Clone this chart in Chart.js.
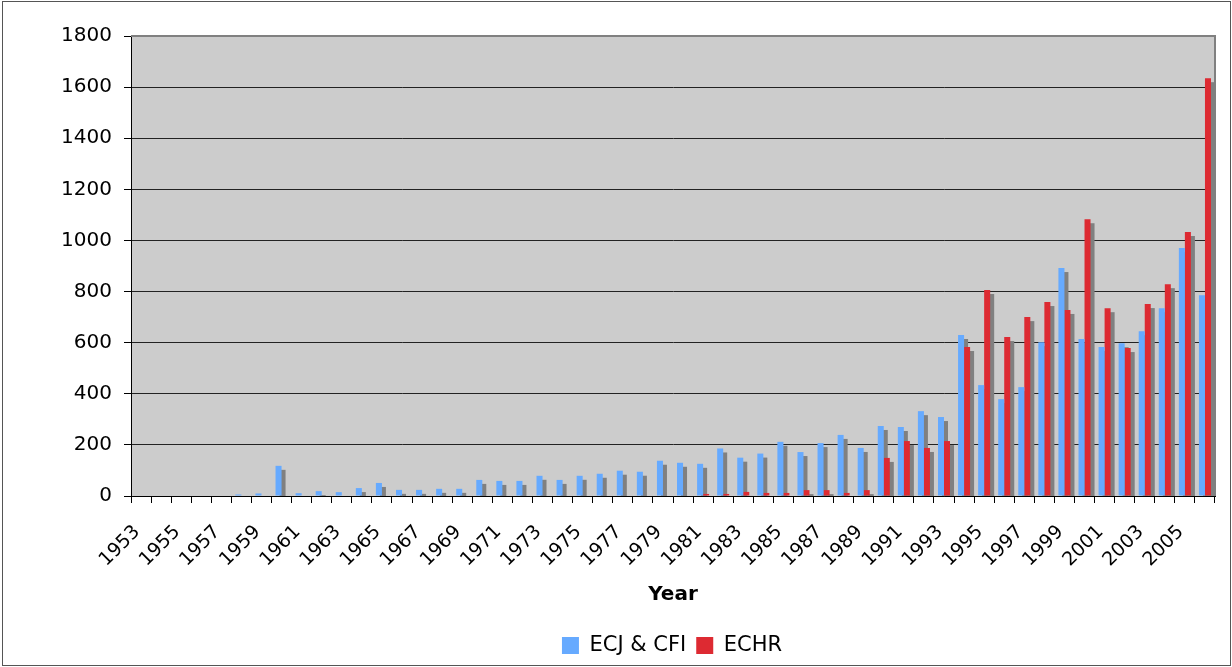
<!DOCTYPE html>
<html>
<head>
<meta charset="utf-8">
<script src="https://cdn.jsdelivr.net/npm/chart.js@4.4.1/dist/chart.umd.min.js"></script>
<style>
  html, body { margin: 0; padding: 0; background: #ffffff; }
  canvas { display: block; }
</style>
</head>
<body>
<canvas id="chart" width="1232" height="667"></canvas>
<script>
// ---- data ----
const years = [
  '1953','1954','1955','1956','1957','1958','1959','1960','1961','1962',
  '1963','1964','1965','1966','1967','1968','1969','1970','1971','1972',
  '1973','1974','1975','1976','1977','1978','1979','1980','1981','1982',
  '1983','1984','1985','1986','1987','1988','1989','1990','1991','1992',
  '1993','1994','1995','1996','1997','1998','1999','2000','2001','2002',
  '2003','2004','2005','2006'
];
const ecjCfi = [
  0, 0, 0, 2, 0, 6, 10, 118, 11, 19,
  15, 31, 51, 24, 24, 28, 28, 63, 59, 59,
  79, 63, 79, 87, 99, 95, 138, 130, 126, 186,
  150, 166, 212, 172, 207, 239, 188, 274, 270, 332,
  309, 630, 434, 379, 426, 602, 892, 614, 583, 598,
  645, 735, 970, 786
];
const echr = [
  0, 0, 0, 0, 0, 0, 0, 0, 0, 0,
  0, 0, 0, 0, 0, 0, 0, 0, 0, 0,
  0, 0, 0, 0, 0, 2, 0, 2, 8, 8,
  16, 12, 12, 23, 23, 12, 23, 149, 215, 188,
  215, 583, 806, 622, 700, 759, 728, 1083, 735, 579,
  751, 829, 1033, 1635
];
const seriesNames = ['ECJ & CFI', 'ECHR'];
const yTickValues = [0, 200, 400, 600, 800, 1000, 1200, 1400, 1600, 1800];
const xAxisTitle = 'Year';

// ---- styling ----
const FONT = 'DejaVu Sans';
Chart.defaults.font.family = FONT;
Chart.defaults.color = '#000';

const decorPlugin = {
  id: 'decor',
  beforeDraw(chart) {
    const { ctx, chartArea: a } = chart;
    ctx.save();
    ctx.fillStyle = '#ffffff';
    ctx.fillRect(0, 0, chart.width, chart.height);
    ctx.fillStyle = '#cccccc';
    ctx.fillRect(a.left, a.top, a.right - a.left, a.bottom - a.top);
    ctx.restore();
  },
  beforeDatasetsDraw(chart) {
    // grey drop shadow behind each bar, taken from the bar elements
    const { ctx, chartArea: a } = chart;
    ctx.save();
    ctx.beginPath();
    ctx.rect(a.left, a.top, a.right - a.left, a.bottom - a.top);
    ctx.clip();
    ctx.fillStyle = '#808080';
    chart.data.datasets.forEach((ds, i) => {
      const meta = chart.getDatasetMeta(i);
      meta.data.forEach(el => {
        const p = el.getProps(['x', 'y', 'base', 'width'], true);
        const h = p.base - p.y;
        if (h > 0) ctx.fillRect(p.x - p.width / 2 + 4, p.y + 4, p.width, h);
      });
    });
    ctx.restore();
  },
  afterLayout(chart) {
    const lg = chart.legend;
    if (lg) {
      const dy = 18;
      lg.top += dy; lg.bottom += dy;
      lg.left = 129; lg.right = 1215;
    }
  },
  afterDraw(chart) {
    const { ctx, chartArea: a } = chart;
    ctx.save();
    ctx.strokeStyle = '#808080';
    ctx.lineWidth = 2;
    ctx.beginPath();
    ctx.moveTo(a.left, a.top);
    ctx.lineTo(a.right, a.top);
    ctx.lineTo(a.right, a.bottom);
    ctx.stroke();
    ctx.strokeStyle = '#555555';
    ctx.lineWidth = 1;
    ctx.strokeRect(2.5, 1.5, 1228, 664);
    ctx.restore();
  }
};

new Chart(document.getElementById('chart'), {
  type: 'bar',
  data: {
    labels: years,
    datasets: [
      { label: seriesNames[0], data: ecjCfi, backgroundColor: '#66aaff', borderWidth: 0,
        categoryPercentage: 0.6, barPercentage: 1.0, clip: 0 },
      { label: seriesNames[1], data: echr, backgroundColor: '#dd2a32', borderWidth: 0,
        categoryPercentage: 0.6, barPercentage: 1.0, clip: 0 }
    ]
  },
  options: {
    responsive: false,
    devicePixelRatio: 1,
    animation: false,
    layout: { padding: { left: 0, right: 17, top: 36, bottom: 19 } },
    plugins: {
      tooltip: { enabled: false },
      legend: {
        position: 'bottom',
        labels: {
          boxWidth: 17, boxHeight: 17, padding: 10,
          font: { family: FONT, size: 21 }, color: '#000'
        }
      }
    },
    scales: {
      x: {
        type: 'category',
        offset: true,
        grid: { display: true, drawOnChartArea: false, drawTicks: true, tickLength: 7,
                color: '#000', offset: true },
        border: { display: true, color: '#000', width: 1 },
        ticks: {
          autoSkip: false, minRotation: 45, maxRotation: 45,
          padding: 18, labelOffset: -4,
          font: { family: FONT, size: 19 }, color: '#000',
          callback: function (v, i) { return i % 2 === 0 ? years[i] : ''; }
        },
        title: { display: true, text: xAxisTitle, color: '#000',
                 font: { family: FONT, size: 20, weight: 'bold' },
                 padding: { top: 0, bottom: 0 } },
        afterFit(s) { s.height = 111; s.paddingLeft = 0; s.paddingRight = 0; }
      },
      y: {
        min: 0, max: 1800,
        afterBuildTicks(s) { s.ticks = yTickValues.map(v => ({ value: v })); },
        ticks: { padding: 12, font: { family: FONT, size: 20 }, color: '#000',
                 callback: v => String(v) },
        grid: { color: '#222222', lineWidth: 1, tickLength: 7, tickColor: '#000' },
        border: { display: true, color: '#000', width: 1 },
        afterFit(s) { s.width = 131; }
      }
    }
  },
  plugins: [decorPlugin]
});
</script>
</body>
</html>
